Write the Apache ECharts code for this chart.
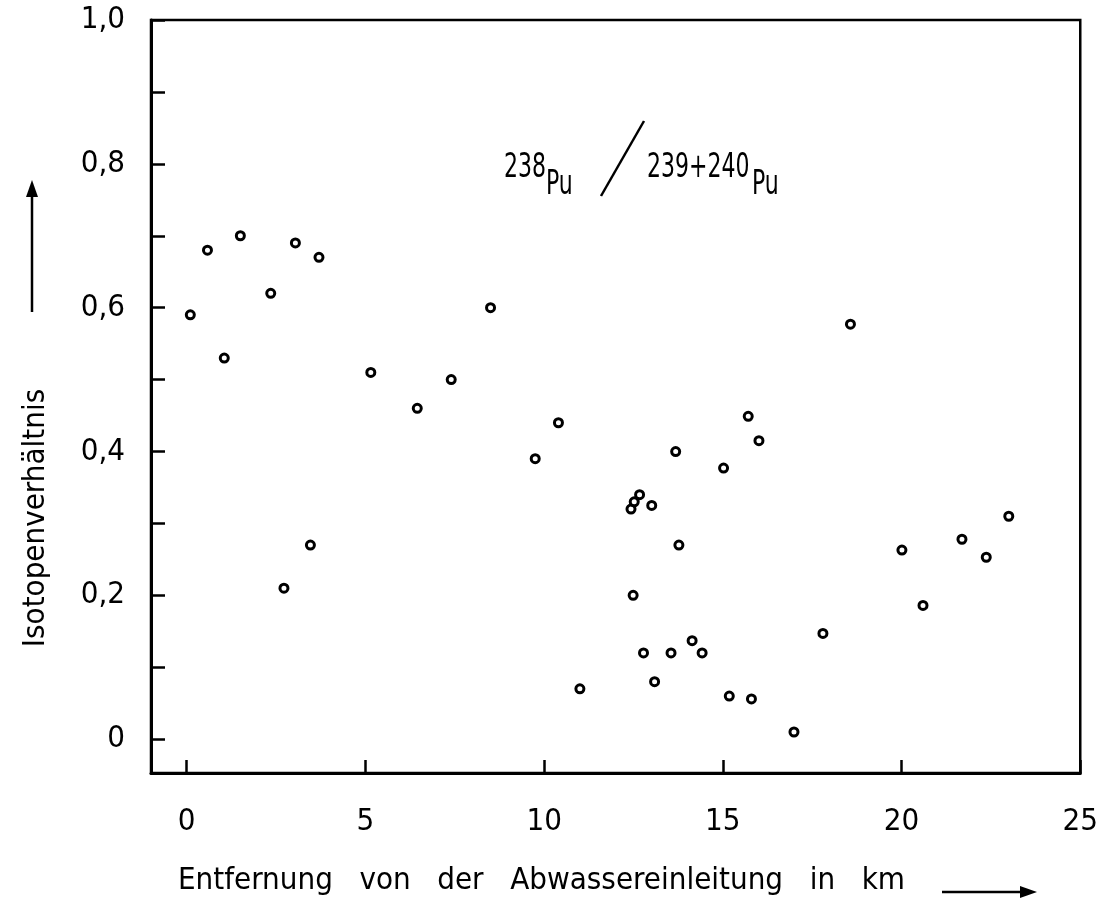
<!DOCTYPE html>
<html>
<head>
<meta charset="utf-8">
<script src="https://cdn.jsdelivr.net/npm/echarts@6/dist/echarts.min.js"></script>
<style>
  html, body { margin: 0; padding: 0; background: #fff; }
  #chart { width: 1101px; height: 915px; }
</style>
</head>
<body>
<div id="chart"></div>
<script>
// Distance downstream of the waste-water outfall (km)
const distanceKm = [
  0.1, 0.58, 1.05, 1.5, 2.35, 2.72, 3.04, 3.46, 3.7, 5.15,
  6.45, 7.4, 8.5, 9.75, 10.4, 11.0, 12.43, 12.52, 12.67, 12.49,
  12.78, 13.01, 13.09, 13.55, 13.68, 13.77, 14.14, 14.42, 15.02, 15.18,
  15.71, 15.8, 16.01, 16.99, 17.8, 18.57, 20.01, 20.6, 21.69, 22.37,
  23.0
];
// Isotope ratio 238Pu / 239+240Pu
const isotopeRatio = [
  0.59, 0.68, 0.53, 0.70, 0.62, 0.21, 0.69, 0.27, 0.67, 0.51,
  0.46, 0.50, 0.60, 0.39, 0.44, 0.07, 0.32, 0.33, 0.34, 0.20,
  0.12, 0.325, 0.08, 0.12, 0.40, 0.27, 0.137, 0.12, 0.377, 0.06,
  0.449, 0.056, 0.415, 0.01, 0.147, 0.577, 0.263, 0.186, 0.278, 0.253,
  0.31
];
const xTicks = [0, 5, 10, 15, 20, 25];
const yTicks = [0, 0.1, 0.2, 0.3, 0.4, 0.5, 0.6, 0.7, 0.8, 0.9, 1.0];
const yLabels = [0, 0.2, 0.4, 0.6, 0.8, 1.0];

const points = distanceKm.map((x, i) => [x, isotopeRatio[i]]);

const font = "'DejaVu Sans Condensed', 'DejaVu Sans', sans-serif";

// narrow lettering for the ratio caption (condensed font squeezed horizontally)
function narrowText(text, x, y) {
  return {
    type: 'text', x: x, y: y, scaleX: 0.72, scaleY: 1,
    style: { text: text, x: 0, y: 0, font: '34px ' + font, fill: '#000',
             align: 'left', verticalAlign: 'middle' }
  };
}

const chart = echarts.init(document.getElementById('chart'), null, { renderer: 'canvas' });

chart.setOption({
  animation: false,
  backgroundColor: '#fff',
  grid: {
    left: 151, right: 18, top: 20, bottom: 142,
    show: true, borderColor: '#000', borderWidth: 2.5,
    containLabel: false
  },
  xAxis: {
    type: 'value',
    min: -1, max: 25,
    axisLine: { show: true, onZero: false, lineStyle: { color: '#000', width: 3 } },
    axisTick: { show: true, inside: true, length: 13, customValues: xTicks,
                lineStyle: { color: '#000', width: 2.5 } },
    axisLabel: { show: true, customValues: xTicks, margin: 33,
                 color: '#000', fontFamily: font, fontSize: 31,
                 formatter: v => String(v) },
    splitLine: { show: false }
  },
  yAxis: {
    type: 'value',
    min: -0.047, max: 1.0,
    axisLine: { show: true, onZero: false, lineStyle: { color: '#000', width: 3 } },
    axisTick: { show: true, inside: true, length: 14, customValues: yTicks,
                lineStyle: { color: '#000', width: 2.5 } },
    axisLabel: { show: true, customValues: yLabels, margin: 26,
                 color: '#000', fontFamily: font, fontSize: 31,
                 formatter: v => (v === 0 ? '0' : v.toFixed(1).replace('.', ',')) },
    splitLine: { show: false }
  },
  series: [{
    type: 'scatter',
    data: points,
    symbol: 'circle',
    symbolSize: 8,
    itemStyle: { color: '#fff', borderColor: '#000', borderWidth: 3, opacity: 1 },
    emphasis: { disabled: true }
  }],
  graphic: [
    // ratio caption inside the plot
    narrowText('238', 504, 168),
    narrowText('Pu', 546, 185),
    { type: 'line', shape: { x1: 644, y1: 121, x2: 601, y2: 196 },
      style: { stroke: '#000', lineWidth: 2.5 } },
    narrowText('239+240', 647, 168),
    narrowText('Pu', 752, 185),

    // x-axis title with arrow
    { type: 'text', left: 178, top: 865,
      style: { text: 'Entfernung   von   der   Abwassereinleitung   in   km',
               font: '31px ' + font, fill: '#000' } },
    { type: 'line', shape: { x1: 942, y1: 892, x2: 1026, y2: 892 },
      style: { stroke: '#000', lineWidth: 2.5 } },
    { type: 'polygon', shape: { points: [[1037, 892], [1020, 886], [1020, 898]] },
      style: { fill: '#000' } },

    // y-axis title with arrow
    { type: 'text', x: 36, y: 518, rotation: Math.PI / 2,
      style: { text: 'Isotopenverhältnis', font: '31px ' + font, fill: '#000',
               align: 'center', verticalAlign: 'middle' } },
    { type: 'line', shape: { x1: 32, y1: 312, x2: 32, y2: 192 },
      style: { stroke: '#000', lineWidth: 2.5 } },
    { type: 'polygon', shape: { points: [[32, 180], [26, 197], [38, 197]] },
      style: { fill: '#000' } }
  ]
});
</script>
</body>
</html>
